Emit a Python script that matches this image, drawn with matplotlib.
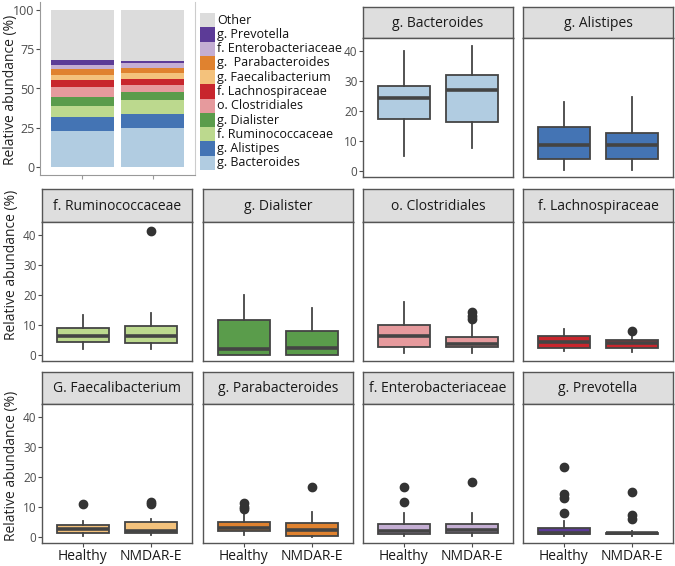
import numpy as np
import matplotlib
matplotlib.use("Agg")
import matplotlib.pyplot as plt
from matplotlib.patches import Rectangle

plt.rcParams['font.family'] = ['Open Sans', 'DejaVu Sans']

groups = ["Healthy", "NMDAR-E"]

# stacked bar segments (bottom to top), per group
taxa = ["g. Bacteroides", "g. Alistipes", "f. Ruminococcaceae", "g. Dialister",
        "o. Clostridiales", "f. Lachnospiraceae", "g. Faecalibacterium",
        "g.  Parabacteroides", "f. Enterobacteriaceae", "g. Prevotella", "Other"]
healthy_seg = [23.1, 8.9, 7.0, 5.5, 6.5, 4.5, 3.2, 3.6, 2.7, 3.2, 31.8]
nmdar_seg = [25.0, 8.9, 8.9, 4.9, 4.8, 3.6, 3.6, 3.2, 3.2, 1.1, 32.8]
taxa_colors = ["#b1cce1", "#4474b4", "#bcd98e", "#5a9c4b", "#e69a9d",
               "#c8262d", "#f4c27c", "#e0822f", "#c4aed3", "#5c3b97", "#dcdcdc"]

# box panel titles and stats: (whislo, q1, med, q3, whishi, fliers)
panel_titles = ["g. Bacteroides", "g. Alistipes",
                "f. Ruminococcaceae", "g. Dialister", "o. Clostridiales", "f. Lachnospiraceae",
                "G. Faecalibacterium", "g. Parabacteroides", "f. Enterobacteriaceae", "g. Prevotella"]
panel_colors = ["#b1cce1", "#4474b4", "#bcd98e", "#5a9c4b", "#e69a9d", "#c8262d",
                "#f4c27c", "#e0822f", "#c4aed3", "#5c3b97"]
box_healthy = [
    (5.0, 17.3, 24.5, 28.6, 40.0, []),
    (0.2, 4.1, 8.6, 14.6, 23.1, []),
    (1.9, 4.4, 6.3, 9.1, 13.5, []),
    (0.0, 0.0, 2.1, 11.6, 20.1, []),
    (0.8, 2.7, 6.5, 9.9, 17.9, []),
    (1.3, 2.4, 4.2, 6.3, 8.7, []),
    (0.3, 1.5, 2.8, 4.1, 5.2, [11.2]),
    (0.6, 2.1, 3.1, 4.9, 7.7, [9.4, 10.2, 11.4]),
    (0.5, 1.1, 1.9, 4.4, 8.0, [11.6, 16.9]),
    (0.2, 0.9, 1.4, 3.1, 5.5, [8.1, 13.1, 14.4, 23.4]),
]
box_nmdar = [
    (7.6, 16.5, 27.1, 32.2, 41.7, []),
    (0.2, 4.1, 8.8, 12.6, 24.9, []),
    (2.1, 4.0, 6.2, 9.6, 14.1, [41.5]),
    (0.0, 0.1, 2.5, 8.0, 15.6, []),
    (0.8, 2.7, 3.8, 5.9, 10.9, [12.2, 13.1, 14.3]),
    (1.1, 2.3, 4.1, 4.9, 6.4, [8.0]),
    (0.6, 1.3, 2.0, 4.9, 6.1, [11.0, 11.6]),
    (0.0, 0.3, 2.5, 4.6, 8.5, [16.9]),
    (0.5, 1.3, 2.5, 4.4, 8.0, [18.3]),
    (0.2, 0.9, 1.3, 1.5, 1.9, [6.1, 7.2, 15.1]),
]

W, H = 675, 566
fig = plt.figure(figsize=(W / 100, H / 100), dpi=100)
edge = "#444444"
tick_col = "#4d4d4d"
ylab = "Relative abundance (%)"


def px_axes(x0, y0, x1, y1):
    return fig.add_axes([x0 / W, 1 - y1 / H, (x1 - x0) / W, (y1 - y0) / H])


# ---- stacked bar panel ----
ax = px_axes(40, 2, 195, 175)
x = np.arange(1, 3)
bottoms = np.zeros(2)
for i, name in enumerate(taxa):
    vals = np.array([healthy_seg[i], nmdar_seg[i]])
    ax.bar(x, vals, bottom=bottoms, width=0.9, color=taxa_colors[i], linewidth=0)
    bottoms += vals
ax.set_xlim(0.4, 2.6)
ax.set_ylim(-5, 105)
ax.set_yticks([0, 25, 50, 75, 100])
ax.set_xticks([1, 2])
ax.set_xticklabels([])
ax.tick_params(axis='y', labelsize=9, colors=tick_col, length=3, pad=1)
ax.tick_params(axis='x', colors="#999999", length=3)
ax.spines['top'].set_visible(False)
ax.spines['left'].set_color("#999999")
ax.spines['bottom'].set_color("#999999")
ax.spines['right'].set_color("#cccccc")
for s in ax.spines.values():
    s.set_linewidth(0.8)
fig.text(11 / W, 1 - 90 / H, ylab, rotation=90, ha='center', va='center',
         fontsize=10, color="#222222")

# legend: contiguous keys, top entry = last taxon
key_top, key_h = 13, 157 / len(taxa)
for j, (name, col) in enumerate(zip(taxa[::-1], taxa_colors[::-1])):
    y0 = key_top + j * key_h
    fig.patches.append(Rectangle((200 / W, 1 - (y0 + key_h) / H), 15 / W, key_h / H,
                                 transform=fig.transFigure, facecolor=col,
                                 edgecolor='none'))
    fig.text(217 / W, 1 - (y0 + key_h / 2) / H, name, ha='left', va='center',
             fontsize=9, color="#111111")

# ---- box panels ----
cols = [42, 203, 363, 523]
rows = [(7, 38, 177), (189, 222, 361), (372, 404, 543)]
label_y = [None, 265, 466]
slots = [(0, 2), (0, 3)] + [(1, c) for c in range(4)] + [(2, c) for c in range(4)]

for k, (r, c) in enumerate(slots):
    st, top, bot = rows[r]
    x0 = cols[c]
    x1 = x0 + 150
    sax = px_axes(x0, st, x1, top)
    sax.set_facecolor("#dedede")
    sax.set_xticks([])
    sax.set_yticks([])
    for s in sax.spines.values():
        s.set_color("#555555")
        s.set_linewidth(1.0)
    sax.text(0.5, 0.47, panel_titles[k], ha='center', va='center', fontsize=10,
             color="#1a1a1a", transform=sax.transAxes)

    bax = px_axes(x0, top, x1, bot)
    stats = []
    for st_vals in (box_healthy[k], box_nmdar[k]):
        lo, q1, med, q3, hi, fl = st_vals
        stats.append(dict(whislo=lo, q1=q1, med=med, q3=q3, whishi=hi, fliers=fl))
    bp = bax.bxp(stats, positions=[1, 2], widths=0.76, showcaps=False, patch_artist=True,
                 boxprops=dict(facecolor=panel_colors[k], edgecolor=edge, linewidth=1.3),
                 medianprops=dict(color=edge, linewidth=2.6, solid_capstyle='butt'),
                 whiskerprops=dict(color=edge, linewidth=1.3),
                 flierprops=dict(marker='o', markerfacecolor="#333333",
                                 markeredgecolor="#333333", markersize=6))
    bax.set_xlim(0.4, 2.6)
    bax.set_ylim(-2, 44.5)
    bax.set_yticks([0, 10, 20, 30, 40])
    for s in bax.spines.values():
        s.set_color("#555555")
        s.set_linewidth(1.0)
    first_col = (c == 0) or (r == 0 and c == 2)
    if first_col:
        bax.tick_params(axis='y', labelsize=8.5, colors=tick_col, length=3, pad=1)
    else:
        bax.tick_params(axis='y', length=0, labelleft=False)
    if r == 2:
        bax.set_xticks([1, 2])
        bax.set_xticklabels(groups)
        bax.tick_params(axis='x', labelsize=10, labelcolor="#1a1a1a", colors=tick_col,
                        length=3, pad=1)
    else:
        bax.set_xticks([])
    if c == 0:
        fig.text(12 / W, 1 - label_y[r] / H, ylab, rotation=90, ha='center',
                 va='center', fontsize=10, color="#222222")

fig.savefig("out.png", dpi=100)
